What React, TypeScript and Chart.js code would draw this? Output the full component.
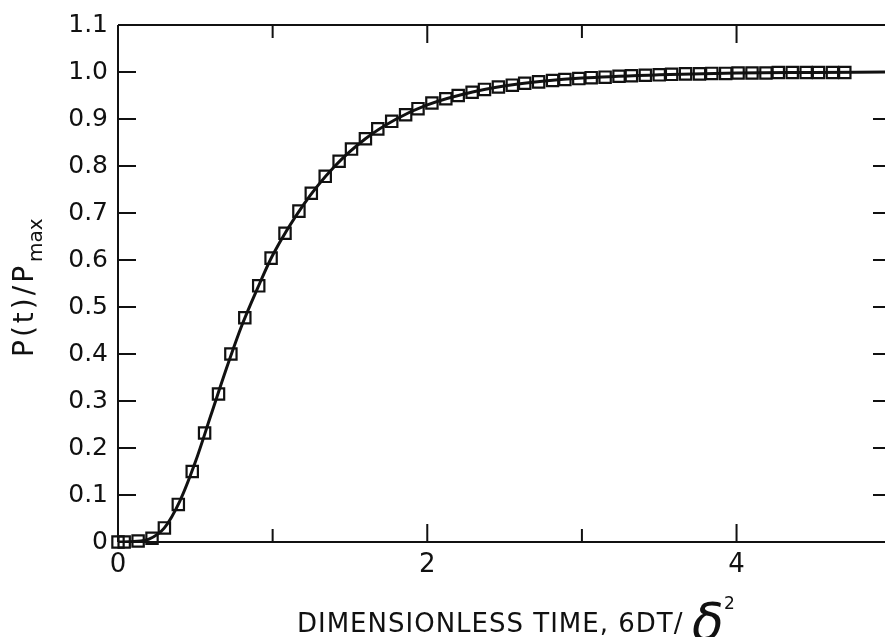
import { useEffect, useRef } from 'react';
import { Chart, registerables } from 'chart.js';

Chart.register(...registerables);

// Measured points (squares)
const sampleX = [0, 0.04, 0.13, 0.22, 0.30, 0.39, 0.48, 0.56, 0.65, 0.73, 0.82, 0.91, 0.99, 1.08, 1.17, 1.25, 1.34, 1.43, 1.51, 1.60, 1.68, 1.77, 1.86, 1.94, 2.03, 2.12, 2.20, 2.29, 2.37, 2.46, 2.55, 2.63, 2.72, 2.81, 2.89, 2.98, 3.06, 3.15, 3.24, 3.32, 3.41, 3.50, 3.58, 3.67, 3.76, 3.84, 3.93, 4.01, 4.10, 4.19, 4.27, 4.36, 4.45, 4.53, 4.62, 4.70];
const sampleY = [0, 0, 0.002, 0.008, 0.03, 0.08, 0.15, 0.232, 0.315, 0.40, 0.477, 0.545, 0.604, 0.657, 0.704, 0.742, 0.778, 0.81, 0.836, 0.858, 0.879, 0.895, 0.909, 0.922, 0.934, 0.943, 0.95, 0.957, 0.963, 0.968, 0.972, 0.976, 0.979, 0.982, 0.984, 0.986, 0.988, 0.989, 0.991, 0.992, 0.993, 0.994, 0.995, 0.996, 0.996, 0.997, 0.997, 0.998, 0.998, 0.998, 0.999, 0.999, 0.999, 0.999, 0.999, 0.999];

// Solid model curve
const curveX = [0, 0.1, 0.2, 0.3, 0.4, 0.5, 0.6, 0.7, 0.8, 0.9, 1.0, 1.2, 1.4, 1.6, 1.8, 2.0, 2.3, 2.6, 3.0, 3.5, 4.0, 4.5, 4.96];
const curveY = [0, 0.001, 0.006, 0.03, 0.087, 0.17, 0.269, 0.368, 0.46, 0.538, 0.61, 0.718, 0.799, 0.858, 0.9, 0.93, 0.958, 0.975, 0.987, 0.994, 0.998, 0.999, 1.0];

const xTickValues = [0, 1, 2, 3, 4];
const xTickLabels = ['0', '', '2', '', '4'];
const yTickValues = [0, 0.1, 0.2, 0.3, 0.4, 0.5, 0.6, 0.7, 0.8, 0.9, 1.0, 1.1];
const yTickLabels = ['0', '0.1', '0.2', '0.3', '0.4', '0.5', '0.6', '0.7', '0.8', '0.9', '1.0', '1.1'];

const xTitleMain = 'DIMENSIONLESS TIME, 6DT/';
const xTitleSymbol = 'δ';
const xTitleSup = '2';
const yTitleMain = 'P(t)/P';
const yTitleSub = 'max';

const INK = '#111';
const FONT = '"DejaVu Sans", sans-serif';

const framePlugin = {
  id: 'frame',
  afterDraw(chart: any) {
    const { ctx, chartArea: a, scales } = chart;
    const x = scales.x;
    const y = scales.y;
    ctx.save();
    ctx.strokeStyle = INK;
    ctx.lineWidth = 2;
    ctx.beginPath();
    ctx.moveTo(a.left, a.top);
    ctx.lineTo(a.left, a.bottom);
    ctx.moveTo(a.left, a.top);
    ctx.lineTo(a.right, a.top);
    ctx.moveTo(a.left, a.bottom);
    ctx.lineTo(a.right, a.bottom);
    y.ticks.forEach((t: any) => {
      if (t.value <= 0 || t.value >= 1.099) return;
      const py = y.getPixelForValue(t.value);
      ctx.moveTo(a.left, py);
      ctx.lineTo(a.left + 18, py);
      ctx.moveTo(a.right, py);
      ctx.lineTo(a.right - 12, py);
    });
    x.ticks.forEach((t: any) => {
      if (t.value <= 0) return;
      const px = x.getPixelForValue(t.value);
      const len = t.value % 2 === 0 ? 18 : 13;
      ctx.moveTo(px, a.bottom);
      ctx.lineTo(px, a.bottom - len);
      ctx.moveTo(px, a.top);
      ctx.lineTo(px, a.top + len);
    });
    ctx.stroke();

    // X title
    ctx.fillStyle = INK;
    ctx.textBaseline = 'alphabetic';
    ctx.textAlign = 'left';
    ctx.font = `26px ${FONT}`;
    (ctx as any).letterSpacing = '1px';
    ctx.fillText(xTitleMain, 297, 632);
    (ctx as any).letterSpacing = '0px';
    ctx.font = `italic 52px ${FONT}`;
    ctx.fillText(xTitleSymbol, 692, 640);
    ctx.font = `17px ${FONT}`;
    ctx.fillText(xTitleSup, 724, 609);

    // Y title (rotated)
    ctx.save();
    ctx.translate(33, 357);
    ctx.rotate(-Math.PI / 2);
    ctx.font = `28px ${FONT}`;
    (ctx as any).letterSpacing = '3px';
    ctx.fillText(yTitleMain, 0, 0);
    const w = ctx.measureText(yTitleMain).width;
    (ctx as any).letterSpacing = '0px';
    ctx.font = `20px ${FONT}`;
    ctx.fillText(yTitleSub, w + 1, 9);
    ctx.restore();

    ctx.restore();
  },
};

export default function App() {
  const ref = useRef<HTMLCanvasElement | null>(null);

  useEffect(() => {
    if (!ref.current) return;
    const chart = new Chart(ref.current, {
      type: 'scatter',
      data: {
        datasets: [
          {
            label: 'model',
            data: curveX.map((v, i) => ({ x: v, y: curveY[i] })),
            showLine: true,
            borderColor: INK,
            borderWidth: 3,
            pointRadius: 0,
            cubicInterpolationMode: 'monotone',
            fill: false,
          },
          {
            label: 'data',
            data: sampleX.map((v, i) => ({ x: v, y: sampleY[i] })),
            showLine: false,
            pointStyle: 'rect',
            pointRadius: 8,
            pointBorderWidth: 2.2,
            pointBorderColor: INK,
            pointBackgroundColor: 'rgba(0,0,0,0)',
            clip: false,
          } as any,
        ],
      },
      options: {
        animation: false,
        responsive: false,
        maintainAspectRatio: false,
        layout: { autoPadding: false, padding: { top: 21, right: 0, left: 0, bottom: 0 } },
        plugins: {
          legend: { display: false },
          tooltip: { enabled: false },
          title: { display: false },
        },
        scales: {
          x: {
            type: 'linear',
            min: 0,
            max: 4.96,
            afterBuildTicks: (scale: any) => {
              scale.ticks = xTickValues.map((v) => ({ value: v }));
            },
            afterFit: (scale: any) => {
              scale.height = 95;
            },
            grid: { display: false, drawTicks: false },
            border: { display: false },
            ticks: {
              autoSkip: false,
              maxRotation: 0,
              padding: 8,
              color: INK,
              font: { family: FONT, size: 26 },
              callback: (_v: any, i: number) => xTickLabels[i],
            },
          },
          y: {
            type: 'linear',
            min: 0,
            max: 1.1,
            afterBuildTicks: (scale: any) => {
              scale.ticks = yTickValues.map((v) => ({ value: v }));
            },
            afterFit: (scale: any) => {
              scale.width = 118;
            },
            grid: { display: false, drawTicks: false },
            border: { display: false },
            ticks: {
              autoSkip: false,
              padding: 10,
              color: INK,
              font: { family: FONT, size: 25 },
              callback: (_v: any, i: number) => yTickLabels[i],
            },
          },
        },
      },
      plugins: [framePlugin],
    });
    return () => chart.destroy();
  }, []);

  return (
    <div style={{ position: 'absolute', left: 0, top: 0, width: 885, height: 637, background: '#fff' }}>
      <canvas ref={ref} width={885} height={637} />
    </div>
  );
}
